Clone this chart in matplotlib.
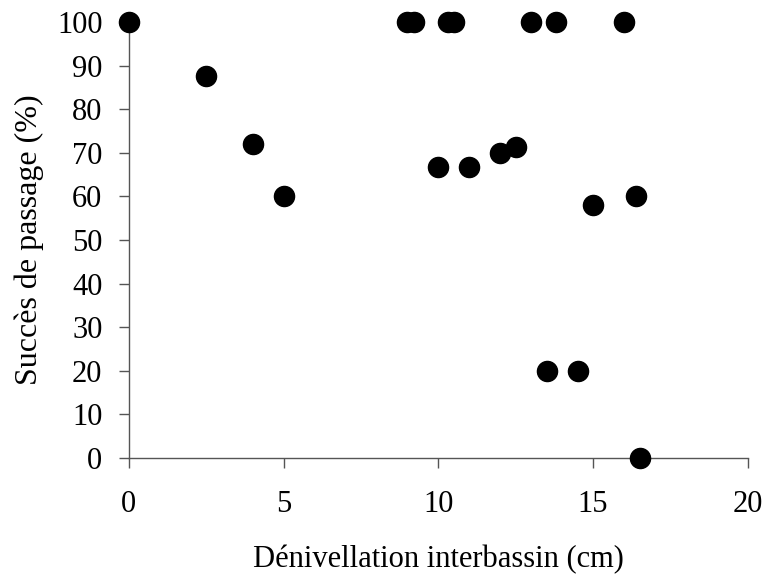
import matplotlib.pyplot as plt

# dénivellation (cm) et succès de passage (%)
denivellation = [0, 2.5, 4.0, 5.0, 9.0, 9.2, 10.3, 10.5, 13.0, 13.8, 16.0,
                 10.0, 11.0, 12.0, 12.5, 15.0, 16.4, 13.5, 14.5, 16.5]
succes = [100, 87.5, 72, 60, 100, 100, 100, 100, 100, 100, 100,
          66.7, 66.7, 70, 71.4, 58, 60, 20, 20, 0]

plt.rcParams['font.family'] = ['Liberation Serif', 'DejaVu Serif']

fig = plt.figure(figsize=(7.67, 5.77), dpi=100)
ax = fig.add_axes([0.168, 0.2062, 0.807, 0.7557])

ax.scatter(denivellation, succes, s=210, color="black", zorder=3, clip_on=False)

ax.set_xlim(0, 20)
ax.set_ylim(0, 100)
ax.set_xticks(range(0, 21, 5))
ax.set_yticks(range(0, 101, 10))

for side in ("top", "right"):
    ax.spines[side].set_visible(False)
for side in ("left", "bottom"):
    ax.spines[side].set_color("#555555")
    ax.spines[side].set_linewidth(1.0)

ax.tick_params(axis="both", direction="out", length=7, width=1.0,
               color="#555555", labelsize=22)
ax.tick_params(axis="x", pad=16)
ax.tick_params(axis="y", pad=12)

ax.set_xlabel("Dénivellation interbassin (cm)", fontsize=22, labelpad=19)
ax.set_ylabel("Succès de passage (%)", fontsize=23, labelpad=9)

fig.savefig("out.png", dpi=100)
